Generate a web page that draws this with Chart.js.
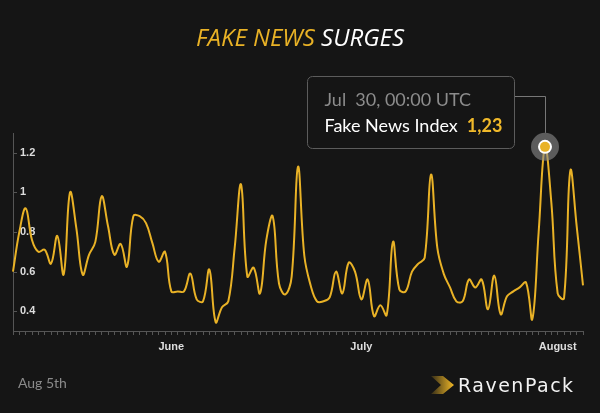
<!DOCTYPE html>
<html>
<head>
<meta charset="utf-8">
<script src="https://cdn.jsdelivr.net/npm/chart.js@4.4.1/dist/chart.umd.min.js"></script>
<style>
  html, body { margin: 0; padding: 0; background: #151515; }
  #wrap { width: 600px; height: 413px; }
</style>
</head>
<body>
<div id="wrap"><canvas id="fakeNewsCanvas" width="600" height="413"></canvas></div>
<script>
// Fake News Index, one value per day, May 7 -> Aug 5
const startDate = Date.UTC(2018, 4, 7);
const fakeNewsIndex = [
  0.60, 0.80, 0.92, 0.76, 0.70, 0.71, 0.64, 0.78, 0.585, 1.00,
  0.82, 0.585, 0.685, 0.75, 0.98, 0.83, 0.685, 0.74, 0.625, 0.88,
  0.88, 0.845, 0.745, 0.65, 0.70, 0.50, 0.50, 0.50, 0.59, 0.46,
  0.45, 0.61, 0.345, 0.42, 0.45, 0.72, 1.04, 0.575, 0.62, 0.49,
  0.76, 0.88, 0.54, 0.485, 0.575, 1.13, 0.68, 0.53, 0.45, 0.45,
  0.47, 0.60, 0.49, 0.645, 0.60, 0.46, 0.56, 0.375, 0.43, 0.38,
  0.75, 0.51, 0.50, 0.60, 0.64, 0.67, 1.09, 0.72, 0.59, 0.52,
  0.45, 0.45, 0.56, 0.52, 0.56, 0.41, 0.58, 0.385, 0.475, 0.50,
  0.52, 0.545, 0.36, 0.80, 1.23, 0.95, 0.49, 0.465, 1.11, 0.83,
  0.53
];
const yTicks = [0.4, 0.6, 0.8, 1, 1.2];
const monthLabels = { 25: "June", 55: "July", 86: "August" };
const highlightIdx = 84;
const footerDate = "Aug 5th";

const monthNames = ["Jan", "Feb", "Mar", "Apr", "May", "Jun", "Jul", "Aug", "Sep", "Oct", "Nov", "Dec"];
const dayLabels = fakeNewsIndex.map((_, i) => {
  const d = new Date(startDate + i * 86400000);
  return monthNames[d.getUTCMonth()] + "  " + d.getUTCDate();
});

const yellow = "#e9b226";
const bg = "#151515";
const axisGrey = "#555";

const decor = {
  id: "decor",
  beforeDraw(chart) {
    const ctx = chart.ctx;
    ctx.save();
    ctx.fillStyle = bg;
    ctx.fillRect(0, 0, chart.width, chart.height);
    ctx.restore();
  },
  afterDraw(chart) {
    const { ctx, chartArea, scales } = chart;
    ctx.save();

    // title
    ctx.font = "italic 400 24px 'Open Sans'";
    ctx.textBaseline = "alphabetic";
    const p1 = "FAKE NEWS ", p2 = "SURGES";
    const w1 = ctx.measureText(p1).width, w2 = ctx.measureText(p2).width;
    const tx = chart.width / 2 - (w1 + w2) / 2;
    ctx.fillStyle = yellow;
    ctx.fillText(p1, tx, 46);
    ctx.fillStyle = "#ffffff";
    ctx.fillText(p2, tx + w1, 46);

    // small y tick marks, pointing inwards
    ctx.strokeStyle = axisGrey;
    ctx.lineWidth = 1;
    scales.y.ticks.forEach(t => {
      const y = Math.round(scales.y.getPixelForValue(t.value)) + 0.5;
      ctx.beginPath();
      ctx.moveTo(chartArea.left, y);
      ctx.lineTo(chartArea.left + 4, y);
      ctx.stroke();
    });

    // footer
    ctx.font = "14px Lato";
    ctx.fillStyle = "#8a8a8a";
    ctx.fillText(footerDate, 18, 388);

    // logo
    const g = ctx.createLinearGradient(431, 0, 453, 0);
    g.addColorStop(0, "rgba(233,178,38,0.15)");
    g.addColorStop(1, yellow);
    ctx.fillStyle = g;
    ctx.beginPath();
    ctx.moveTo(431, 376);
    ctx.lineTo(443, 376);
    ctx.lineTo(454, 385);
    ctx.lineTo(443, 394);
    ctx.lineTo(431, 394);
    ctx.lineTo(441, 385);
    ctx.closePath();
    ctx.fill();
    ctx.font = "19px 'DejaVu Sans'";
    ctx.letterSpacing = "1.5px";
    ctx.fillStyle = "#f2f2f2";
    ctx.fillText("RavenPack", 458, 392);
    ctx.letterSpacing = "0px";

    // tooltip for the highlighted day
    const pt = chart.getDatasetMeta(0).data[highlightIdx];
    const px = pt.x, py = pt.y;
    const bx = Math.round(px - 238) + 0.5, by = Math.round(py - 71) + 0.5;
    const bw = 207, bh = 72;

    ctx.strokeStyle = "#777";
    ctx.lineWidth = 1;
    ctx.beginPath();
    ctx.moveTo(bx + bw, Math.round(py - 51) + 0.5);
    ctx.lineTo(Math.round(px) + 0.5, Math.round(py - 51) + 0.5);
    ctx.lineTo(Math.round(px) + 0.5, py - 14);
    ctx.stroke();

    ctx.fillStyle = bg;
    ctx.strokeStyle = "#5c5c5c";
    ctx.beginPath();
    ctx.roundRect(bx, by, bw, bh, 5);
    ctx.fill();
    ctx.stroke();

    ctx.font = "18px Lato";
    ctx.fillStyle = "#8c8c8c";
    ctx.fillText(dayLabels[highlightIdx] + ", 00:00 UTC", bx + 17, py - 41);
    ctx.fillStyle = "#ffffff";
    const lbl = "Fake News Index";
    ctx.fillText(lbl, bx + 17, py - 15);
    const lw = ctx.measureText(lbl).width;
    ctx.font = "bold 18px Lato";
    ctx.fillStyle = "#f0b92a";
    ctx.fillText(fakeNewsIndex[highlightIdx].toFixed(2).replace(".", ","), bx + 17 + lw + 9, py - 15);

    // halo + marker
    ctx.fillStyle = "rgba(140,140,140,0.6)";
    ctx.beginPath();
    ctx.arc(px, py, 14, 0, Math.PI * 2);
    ctx.fill();
    ctx.fillStyle = "#ffffff";
    ctx.beginPath();
    ctx.arc(px, py, 7, 0, Math.PI * 2);
    ctx.fill();
    ctx.fillStyle = yellow;
    ctx.beginPath();
    ctx.arc(px, py, 5, 0, Math.PI * 2);
    ctx.fill();

    ctx.restore();
  }
};

const tickFont = { family: "'Liberation Sans', Arial, sans-serif", size: 11, weight: "bold" };

const fakeNewsChart = new Chart(document.getElementById("fakeNewsCanvas"), {
  type: "line",
  data: {
    labels: dayLabels,
    datasets: [
      {
        label: "Fake News Index",
        data: fakeNewsIndex,
        borderColor: yellow,
        borderWidth: 2,
        pointRadius: 0,
        tension: 0.4,
        fill: false
      }
    ]
  },
  options: {
    responsive: false,
    animation: false,
    events: [],
    layout: { padding: { left: 13, right: 17, top: 133, bottom: 57 } },
    plugins: {
      legend: { display: false },
      tooltip: { enabled: false },
      title: { display: false }
    },
    scales: {
      x: {
        grid: { display: true, drawOnChartArea: false, drawTicks: true, tickLength: 4, color: axisGrey },
        border: { display: true, color: axisGrey },
        ticks: {
          autoSkip: false,
          maxRotation: 0,
          padding: 5,
          color: "#dddddd",
          font: tickFont,
          callback: (v, i) => monthLabels[i] || ""
        },
        afterFit: s => { s.height = 25; }
      },
      y: {
        min: 0.3,
        max: 1.3,
        afterBuildTicks: s => { s.ticks = yTicks.map(v => ({ value: v })); },
        grid: { display: false },
        border: { display: true, color: axisGrey },
        ticks: {
          mirror: true,
          padding: 7,
          color: "#dddddd",
          font: tickFont,
          callback: v => String(+v.toFixed(1))
        },
        afterFit: s => { s.width = 0; }
      }
    }
  },
  plugins: [decor]
});
</script>
</body>
</html>
